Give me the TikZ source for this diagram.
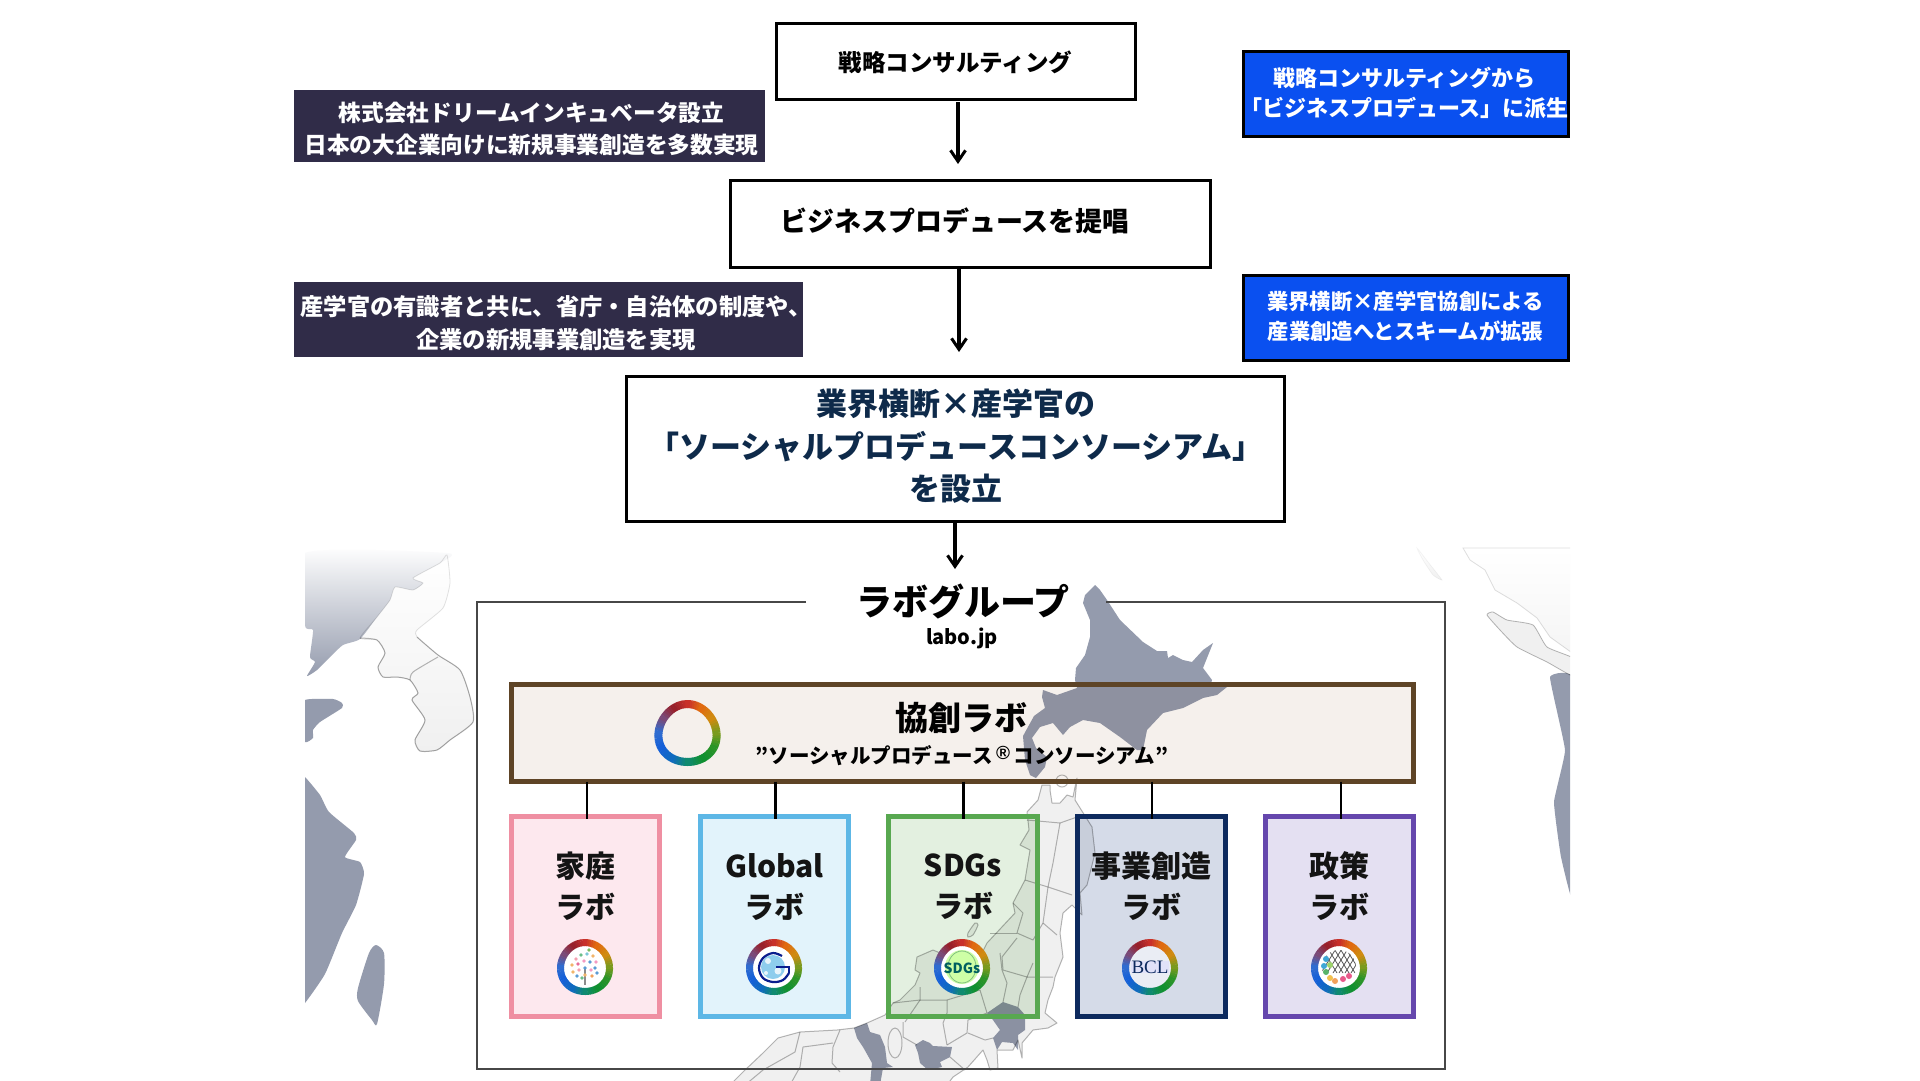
\documentclass[tikz,border=0pt]{standalone}
\usepackage{fontspec}
\usetikzlibrary{arrows.meta,shapes.geometric,calc}
\setmainfont{Noto Sans CJK JP}
\newfontfamily\serifbcl{Liberation Serif}
\newfontfamily\latinreg{Liberation Sans}
\newcommand{\fs}[2]{\fontsize{#1}{#2}\selectfont}
\definecolor{ra}{HTML}{7A9A1E}\definecolor{rb}{HTML}{D08A10}\definecolor{rc}{HTML}{E06A10}
\definecolor{rd}{HTML}{C8302A}\definecolor{re}{HTML}{98202A}\definecolor{rf}{HTML}{7A4A78}
\definecolor{rg}{HTML}{2F6CD0}\definecolor{rh}{HTML}{1560D8}\definecolor{ri}{HTML}{0F6AC0}
\definecolor{rj}{HTML}{0F8A70}\definecolor{rk}{HTML}{109030}\definecolor{rl}{HTML}{2A9428}
\definecolor{mapdark}{HTML}{949BAD}\definecolor{mapland}{HTML}{F0F0F0}\definecolor{mapline}{HTML}{B8B8B8}
\definecolor{darkbox}{HTML}{302C48}\definecolor{bluebox}{HTML}{0A50F0}\definecolor{navytext}{HTML}{0E2A4A}
\definecolor{kyb}{HTML}{5E4426}\definecolor{kyf}{HTML}{F5F0EC}
\definecolor{pkb}{HTML}{EF8FA2}\definecolor{pkf}{HTML}{FDE8EE}
\definecolor{blb}{HTML}{5DB7E6}\definecolor{blf}{HTML}{E2F3FB}
\definecolor{grb}{HTML}{58A850}\definecolor{grf}{HTML}{E3F0E0}
\definecolor{nvb}{HTML}{0D2A5E}\definecolor{nvf}{HTML}{D5DBE8}
\definecolor{pub}{HTML}{6547AD}\definecolor{puf}{HTML}{E4E0F2}
\newcommand{\ringicon}[5]{%
 \foreach \st/\ca/\cb in {0/ra/rb,30/rb/rc,60/rc/rd,90/rd/re,120/re/rf,150/rf/rg,180/rg/rh,210/rh/ri,240/ri/rj,270/rj/rk,300/rk/rl,330/rl/ra}{%
  \foreach \i in {0,...,5}{%
   \pgfmathsetmacro\tA{\st+\i*5}%
   \pgfmathsetmacro\tB{\tA+6}%
   \pgfmathtruncatemacro\pp{100-\i*20}%
   \draw[line width=#4,color=\ca!\pp!\cb] ({#1+#3*cos(\tA)*(1-#5*sin(\tA))},{#2-#3*sin(\tA)}) -- ({#1+#3*cos(\tB)*(1-#5*sin(\tB))},{#2-#3*sin(\tB)});
  }}}
\tikzset{
 topbox/.style={draw=black,line width=3pt,fill=white,inner sep=0,outer sep=0},
 darkrect/.style={fill=darkbox,inner sep=0,outer sep=0},
 bluerect/.style={draw=black,line width=3pt,fill=bluebox,inner sep=0,outer sep=0},
 labfill/.style={inner sep=0,outer sep=0,minimum width=148pt,minimum height=200pt},
 labtext/.style={inner sep=0,align=center,font=\fs{30}{41}\bfseries,text=black!92},
 toplabel/.style={inner sep=0,align=center},
 flow/.style={line width=3.4pt,-{Straight Barb[length=11pt,width=15pt,line width=3pt]}},
 conn/.style={line width=2.5pt,black},
 land/.style={fill=mapland,draw=mapline,line width=1pt},
 dark/.style={fill=mapdark},
 pref/.style={draw=mapline,line width=1pt},
}
\begin{document}
\begin{tikzpicture}[x=1pt,y=-1pt]
\useasboundingbox[fill=white] (0,0) rectangle (1920,1080);
% box fills below the map
\node[inner sep=0,outer sep=0,minimum width=902pt,minimum height=97pt,fill=kyf] (kyoso) at (962.5,733) {};
\node[labfill,fill=pkf] (lab1) at (585.5,916.5) {};
\node[labfill,fill=blf] (lab2) at (774.5,916.5) {};
\node[labfill,fill=grf,minimum width=149pt] (lab3) at (963,916.5) {};
\node[labfill,fill=nvf] (lab4) at (1151,916.5) {};
\node[labfill,fill=puf] (lab5) at (1339,916.5) {};
% map
\begin{scope}[blend mode=multiply]
\clip (305,545) rectangle (1570,1080);
% left mainland
\path[top color=white,middle color=mapdark!72!white,bottom color=mapdark] plot[smooth cycle,tension=.35] coordinates {(305,553)(305,625)(313,630)(310,657)(315,662)(307,676)(317,670)(330,657)(343,645)(360,639)(377,617)(390,600)(395,587)(413,590)(423,583)(413,578)(440,563)(447,553)};
% Manchuria and Korea
\path[top color=white,bottom color=mapland,draw=mapline!40,line width=.8pt] plot[smooth cycle,tension=.3] coordinates {(395,587)(413,590)(423,583)(413,578)(440,563)(447,555)(450,583)(443,608)(417,630)(417,637)(438,655)(460,670)(470,697)(473,722)(450,740)(437,750)(420,751)(415,740)(425,720)(412,700)(418,693)(410,680)(397,677)(383,677)(378,667)(385,653)(377,640)(360,638)(377,617)(390,600)};
\draw[mapline,line width=1pt,smooth] plot[smooth,tension=.4] coordinates {(360,638)(377,640)(385,653)(378,667)(383,677)(397,677)(410,680)(418,693)(412,700)(425,720)(415,740)(420,751)(437,750)(450,740)(473,722)(470,697)(460,670)(438,655)(417,637)};
\draw[mapline,line width=1pt] plot[smooth,tension=.4] coordinates {(438,657)(413,672)(410,680)};
\fill[dark] plot[smooth cycle,tension=.3] coordinates {(305,700)(333,699)(342,703)(342,708)(320,722)(313,730)(313,738)(305,742)(298,720)};
\fill[dark] plot[smooth cycle,tension=.3] coordinates {(300,777)(305,777)(320,795)(329,812)(354,833)(356,840)(345,857)(360,862)(364,874)(356,905)(342,933)(325,974)(305,1003)(300,1003)};
\fill[dark] plot[smooth cycle,tension=.4] coordinates {(376,945)(384,953)(384,984)(377,1024)(372,1020)(358,1001)(358,988)(369,953)};
% right side
\path[top color=white,bottom color=mapland,draw=mapline!15,line width=.6pt] plot[smooth cycle,tension=.3] coordinates {(1417,548)(1428,562)(1442,580)(1433,575)(1423,560)};
\path[top color=white,bottom color=mapland!70,draw=mapline!45,line width=.8pt] plot[tension=.3] coordinates {(1463,548)(1470,560)(1485,570)(1495,590)(1517,603)(1537,618)(1550,637)(1575,655)(1575,548)} -- cycle;
\path[land,line width=.8pt] plot[smooth cycle,tension=.3] coordinates {(1487,615)(1493,612)(1507,620)(1533,625)(1547,647)(1575,659)(1575,677)(1547,662)(1517,647)(1500,630)};
\fill[dark] plot[smooth cycle,tension=.2] coordinates {(1550,677)(1575,681)(1575,905)(1561,857)(1554,802)(1565,750)};
% Hokkaido
\fill[dark,line join=round] (1095,585)--(1085,595)--(1083,603)--(1090,620)--(1090,637)--(1085,655)--(1076,668)--(1075,680)--(1077,688)--(1057,695)--(1043,690)--(1042,697)--(1045,708)--(1034,716)--(1023,736)--(1025,760)--(1030,775)--(1036,778)--(1045,767)--(1047,757)--(1036,748)--(1032,738)--(1040,727)--(1053,723)--(1063,735)--(1070,727)--(1083,720)--(1100,723)--(1120,737)--(1137,750)--(1143,750)--(1147,730)--(1163,713)--(1183,708)--(1203,698)--(1217,695)--(1227,687)--(1210,687)--(1212,680)--(1203,668)--(1207,658)--(1213,643)--(1203,650)--(1192,662)--(1183,660)--(1173,655)--(1168,658)--(1167,651)--(1157,651)--(1143,642)--(1120,620)--(1107,600)--(1100,590)--cycle;
% Honshu
\path[land,line join=round] (1042,785)--(1050,785)--(1050,790)--(1052,803)--(1060,803)--(1067,795)--(1073,797)--(1075,787)--(1077,778)--(1075,800)--(1092,827)--(1095,853)--(1087,885)--(1080,893)--(1082,915)--(1072,905)--(1063,913)--(1060,933)--(1063,957)--(1055,977)--(1053,987)--(1048,1000)--(1045,1013)--(1057,1023)--(1048,1028)--(1033,1030)--(1022,1043)--(1022,1058)--(1018,1040)--(1013,1050)--(997,1050)--(998,1068)--(990,1070)--(987,1060)--(983,1050)--(968,1067)--(953,1077)--(947,1085)--(730,1085)--(745,1070)--(763,1053)--(778,1038)--(800,1032)--(837,1030)--(854,1028)--(867,1023)--(885,1015)--(893,1003)--(900,1000)--(915,985)--(920,973)--(915,970)--(917,957)--(933,950)--(945,955)--(950,975)--(965,985)--(980,957)--(987,943)--(1015,913)--(1013,903)--(1025,880)--(1030,850)--(1020,845)--(1029,830)--(1027,812)--(1038,800)--cycle;
\draw[mapline,line width=1pt] (1062,781) circle (6);
% prefecture borders
\draw[pref,line join=round] (1027,820)--(1060,823)--(1077,817);
\draw[pref,line join=round] (1060,823)--(1053,863)--(1048,887)--(1072,895);
\draw[pref] (1025,880)--(1048,887)--(1043,923)--(1057,935);
\draw[pref,line join=round] (1013,903)--(1023,913)--(1017,933)--(1033,940)--(1043,923);
\draw[pref] (990,933)--(1017,933);
\draw[pref,line join=round] (1017,938)--(1002,957)--(1003,970)--(1027,977)--(1053,977);
\draw[pref,line join=round] (1000,953)--(1002,970)--(1007,983)--(1003,1002);
\draw[pref,line join=round] (1033,963)--(1027,977)--(1020,995)--(1018,1007);
\draw[pref,line join=round] (893,1003)--(920,1000)--(920,987);
\draw[pref,line join=round] (920,1000)--(947,1000)--(947,1013)--(943,1023)--(947,1045);
\draw[pref,line join=round] (947,1000)--(980,990)--(987,1013);
\draw[pref,line join=round] (947,1045)--(967,1033)--(968,1020)--(987,1013);
\draw[pref,line join=round] (903,1022)--(903,1037)--(917,1045);
\draw[pref,line join=round] (905,1022)--(920,1000);
\draw[pref,line join=round] (800,1032)--(795,1052)--(763,1070)--(745,1085);
\draw[pref,line join=round] (840,1030)--(833,1047)--(832,1063)--(840,1072);
\draw[pref,line join=round] (833,1043)--(803,1047)--(800,1067)--(790,1085);
\draw[pref,line join=round] (968,1033)--(985,1040)--(993,1038);
\draw[pref,line join=round] (950,1057)--(965,1070);
\draw[pref] (895,1043) ellipse (7 and 15);
\path[land] plot[smooth cycle,tension=.4] coordinates {(968,933)(975,923)(978,925)(973,935)(968,937)};
\fill[dark] (854,1028)--(867,1023)--(870,1032)--(880,1035)--(885,1047)--(887,1063)--(893,1067)--(883,1068)--(880,1085)--(870,1085)--(872,1063)--(863,1047)--(857,1038)--cycle;
\fill[dark,line join=round] (915,1045)--(923,1040)--(930,1043)--(933,1046)--(952,1047)--(950,1057)--(940,1062)--(942,1067)--(928,1070)--(920,1063)--(918,1053)--cycle;
\fill[dark,line join=round] (987,1013)--(1003,1002)--(1018,1007)--(1025,1015)--(1025,1030)--(1018,1035)--(1018,1050)--(1013,1043)--(1002,1042)--(997,1050)--(993,1038)--(1000,1030)--(993,1020)--cycle;
\end{scope}
% group frame
\draw[line width=2pt,black!72] (806,602) -- (476.5,602) -- (476.5,1069) -- (1445,1069) -- (1445,602) -- (1106,602);
% borders
\draw[kyb,line width=5pt] (kyoso.south west) rectangle (kyoso.north east);
\draw[pkb,line width=5pt] (lab1.south west) rectangle (lab1.north east);
\draw[blb,line width=5pt] (lab2.south west) rectangle (lab2.north east);
\draw[grb,line width=5pt] (lab3.south west) rectangle (lab3.north east);
\draw[nvb,line width=5pt] (lab4.south west) rectangle (lab4.north east);
\draw[pub,line width=5pt] (lab5.south west) rectangle (lab5.north east);
% connectors kyoso to labs
\draw[conn] ([xshift=1.5pt]lab1.north |- kyoso.south) -- ([xshift=1.5pt,yshift=-2.5pt]lab1.north);
\draw[conn] ([xshift=1pt]lab2.north |- kyoso.south) -- ([xshift=1pt,yshift=-2.5pt]lab2.north);
\draw[conn] ([xshift=.5pt]lab3.north |- kyoso.south) -- ([xshift=.5pt,yshift=-2.5pt]lab3.north);
\draw[conn] ([xshift=1pt]lab4.north |- kyoso.south) -- ([xshift=1pt,yshift=-2.5pt]lab4.north);
\draw[conn] ([xshift=2pt]lab5.north |- kyoso.south) -- ([xshift=2pt,yshift=-2.5pt]lab5.north);
% flow boxes
\node[topbox,minimum width=359pt,minimum height=76pt] (box1) at (955.5,61) {};
\node[topbox,minimum width=480pt,minimum height=87pt] (box2) at (970,223.5) {};
\node[topbox,minimum width=658pt,minimum height=145pt] (box3) at (955,448.5) {};
\node[toplabel,font=\fs{23.5}{28}\bfseries] (t1) at (955.5,62) {戦略コンサルティング};
\node[toplabel,font=\fs{27}{32}\bfseries] (t2) at (955,221) {ビジネスプロデュースを提唱};
\node[toplabel,font=\fs{31}{42.5}\bfseries,text=navytext] (t3) at (956,446.5) {業界横断×産学官の\\「ソーシャルプロデュースコンソーシアム」\\を設立};
\node[darkrect,minimum width=471pt,minimum height=72pt] (d1) at (529.5,126) {};
\node[darkrect,minimum width=509pt,minimum height=75pt] (d2) at (548.5,319.5) {};
\node[toplabel,font=\fs{22.7}{32.5}\bfseries,text=white] (dt1) at (531.5,129) {株式会社ドリームインキュベータ設立\\日本の大企業向けに新規事業創造を多数実現};
\node[toplabel,font=\fs{23.3}{33}\bfseries,text=white] (dt2) at (556,323) {産学官の有識者と共に、省庁・自治体の制度や、\\企業の新規事業創造を実現};
\node[bluerect,minimum width=325pt,minimum height=85pt] (b1) at (1405.5,93.5) {};
\node[bluerect,minimum width=325pt,minimum height=85pt] (b2) at (1405.5,317.5) {};
\node[toplabel,font=\fs{22}{30}\bfseries,text=white] (bt1) at (1404.5,93) {戦略コンサルティングから\\「ビジネスプロデュース」に派生};
\node[toplabel,font=\fs{21.3}{30}\bfseries,text=white] (bt2) at (1405.5,316) {業界横断×産学官協創による\\産業創造へとスキームが拡張};
% flow arrows
\coordinate (a3end) at (955,569);
\draw[flow] ([xshift=2.5pt,yshift=-3pt]box1.south) -- ([xshift=-12pt,yshift=16pt]box2.north);
\draw[flow] ([xshift=-11pt,yshift=-2pt]box2.south) -- ([xshift=4pt,yshift=24pt]box3.north);
\draw[flow] (box3.south) -- (a3end);
% group title
\node[toplabel,font=\fs{36}{40}\bfseries] (grp) at (963,601) {ラボグループ};
\node[toplabel,font=\fs{20}{24}\bfseries] (grpurl) at (962,638) {labo.jp};
% kyoso text
\node[toplabel,font=\fs{33}{38}\bfseries] (kyt) at (961,718) {協創ラボ};
\node[toplabel,font=\fs{20.5}{24}\bfseries] (kys) at (962,756) {”ソーシャルプロデュース\,\raisebox{4pt}{\latinreg\fs{19}{19}®}\,コンソーシアム”};
% lab labels
\node[labtext] (l1) at (585,886) {家庭\\ラボ};
\node[labtext] (l2) at (774.5,887) {Global\\ラボ};
\node[labtext] (l3) at (963,887) {SDGs\\ラボ};
\node[labtext] (l4) at (1151,886) {事業創造\\ラボ};
\node[labtext] (l5) at (1339,886) {政策\\ラボ};
% big ring
\ringicon{687.5}{733}{29}{8pt}{0.09}
% family icon
\fill[white] (585,967) circle (22);
\ringicon{585}{967}{24.5}{7pt}{0.05}
\draw[black!45,line width=1.2pt] (585,968)--(585,985);
\foreach \dx/\dy/\c in {-9/-8/F4A0B0,-4/-12/6BBF8A,2/-13/7FC7D9,8/-11/F2B56B,11/-5/F49AC2,-13/-2/F2B56B,-7/-3/E86C9A,-1/-6/F49AC2,5/-5/5B9BD5,10/1/5B9BD5,-12/5/F2B56B,-6/3/F4A0B0,0/1/5B9BD5,6/3/F49AC2,12/6/5B9BD5,-8/9/5B9BD5,7/9/F2A15B,0/8/F2B56B,-3/11/6BBF8A,4/-17/7DBB5F}{
 \definecolor{dotc}{HTML}{\c}\fill[dotc] ({585+\dx},{967+\dy}) circle (1.9);}
% global icon
\fill[white] (774,967) circle (22);
\fill[blb!70!white] (773,967) circle (12);
\fill[white!85!blb] (768,961) circle (3);\fill[white!85!blb] (778,971) circle (3.5);\fill[white!85!blb] (766,973) circle (2);
\ringicon{774}{967}{24.5}{7pt}{0.05}
\draw[line width=2.2pt,nvb!70!blue] plot[smooth,tension=.6] coordinates {(782,956)(773,953)(763,958)(759,968)(763,978)(773,982)(783,980)(789,973)};
\draw[line width=2.2pt,nvb!70!blue] (789,973)--(789,967)--(776,967);
% SDGs icon
\fill[white] (962,967) circle (22);
\fill[green!55!yellow!35!white] (962,967) circle (17);
\ringicon{962}{967}{24.5}{7pt}{0.05}
\draw[line width=.8pt,green!50!black!50] (962,967) ellipse (14 and 16);
\node[toplabel,font=\fs{14}{15}\bfseries,text=teal!75!black] (isdg) at (962,968) {SDGs};
% BCL icon
\fill[nvf!50!white] (1150,967) circle (21);
\ringicon{1150}{967}{24.5}{7pt}{0.05}
\node[toplabel,font=\serifbcl\fs{19}{20},text=nvb,fill=blue!15!white,fill opacity=.5,text opacity=1,inner xsep=1pt] (ibcl) at (1150,967) {BCL};
% policy icon
\fill[white] (1339,967) circle (22);
\ringicon{1339}{967}{24.5}{7pt}{0.05}
\begin{scope}
\clip (1339,967) circle (17);
\foreach \k in {-12,-6,...,24}{
 \draw[black!65,line width=.8pt] ({1339+\k-6},{967-20}) -- ({1339+\k+10},{967+6});
 \draw[black!65,line width=.8pt] ({1339+\k+10},{967-20}) -- ({1339+\k-6},{967+6});}
\end{scope}
\foreach \dx/\dy/\c in {-13/-8/3FA7D6,-15/-1/3FA7D6,-13/5/58B368,-9/11/F2C14E,-4/14/F2A15B,4/12/E85A8A,10/9/E85A8A,-9/-2/9ED36A}{
 \definecolor{dotc}{HTML}{\c}\fill[dotc] ({1339+\dx},{967+\dy}) circle (3);}
\end{tikzpicture}
\end{document}
